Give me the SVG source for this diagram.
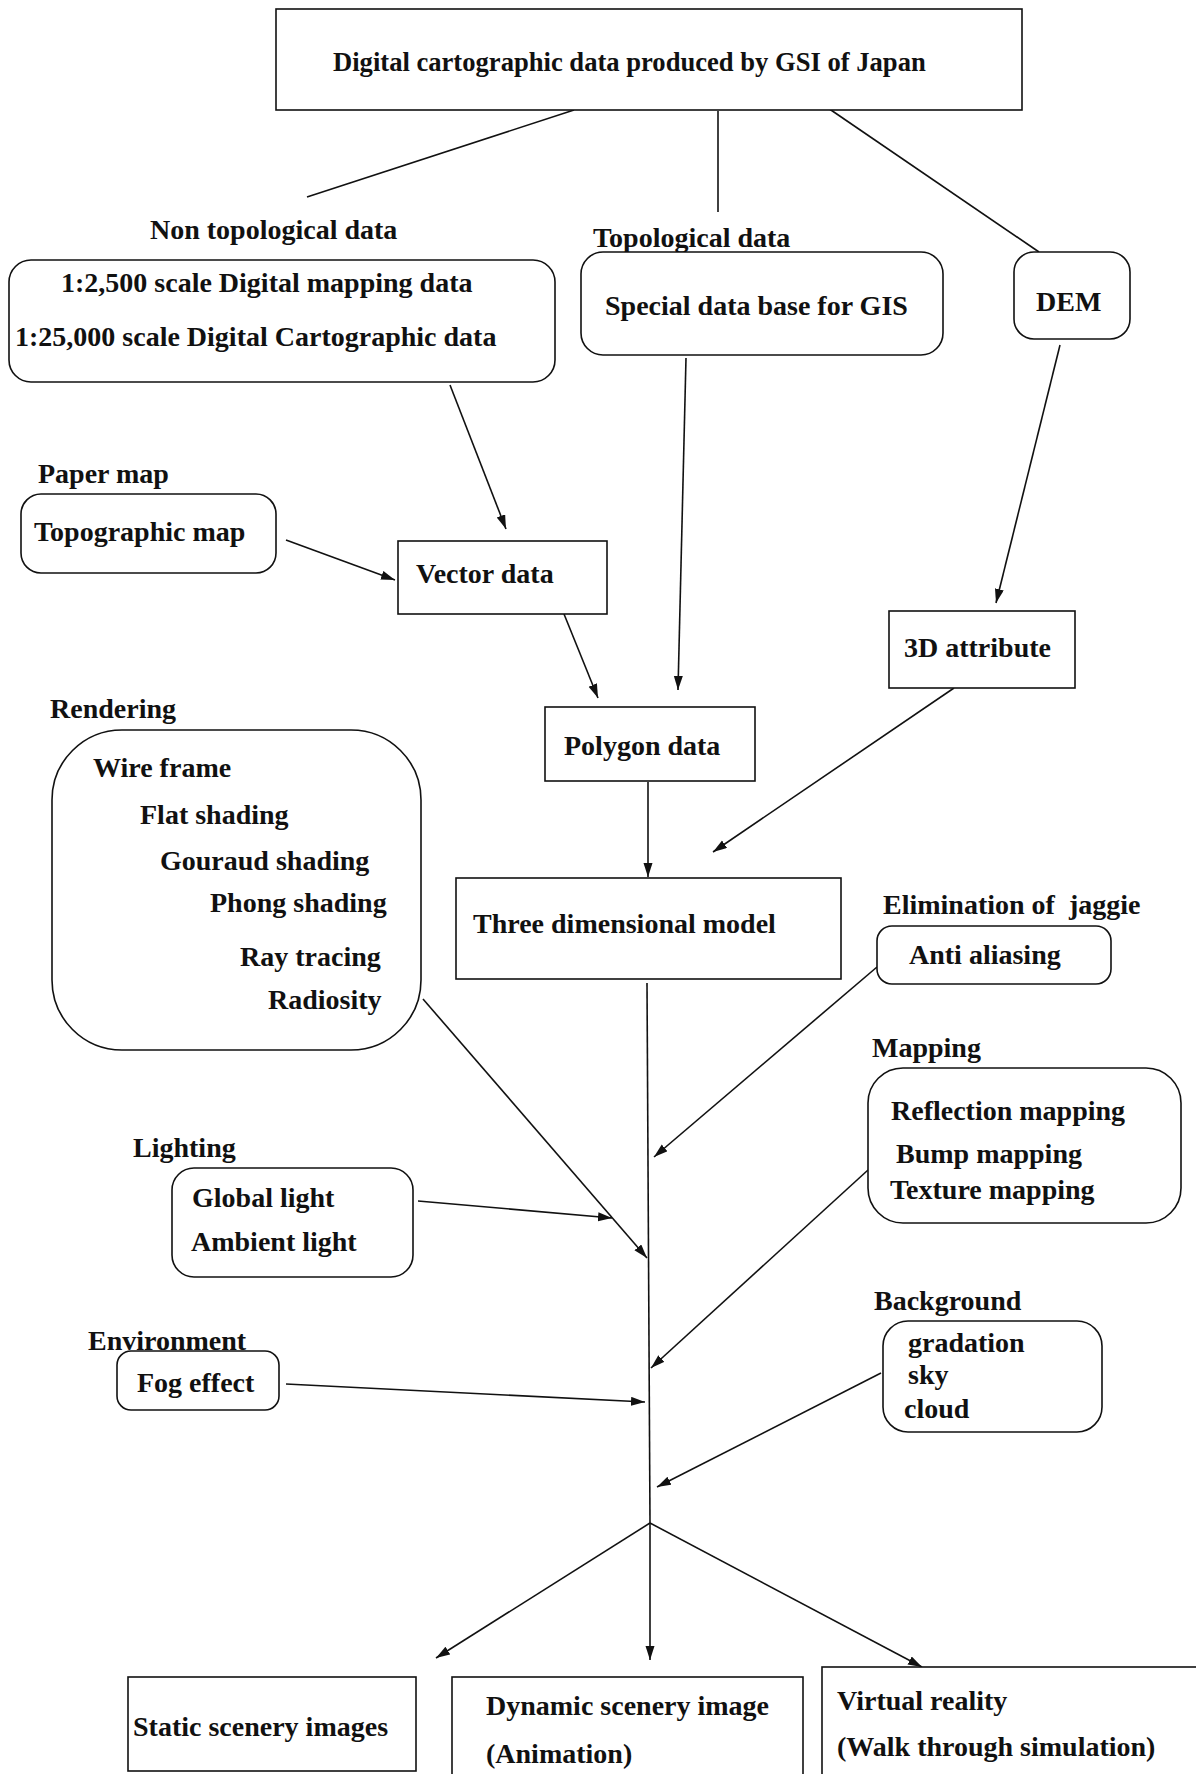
<svg xmlns="http://www.w3.org/2000/svg" width="1196" height="1774" viewBox="0 0 1196 1774">
<style>
  text { font-family: "Liberation Serif", "Times New Roman", serif; font-weight: bold; font-size: 28px; fill: #111; }
  .box { fill: #fff; stroke: #111; stroke-width: 1.6; }
  .ln { stroke: #111; stroke-width: 1.6; fill: none; }
  .arr { marker-end: url(#ah); }
</style>
<defs>
  <marker id="ah" markerUnits="userSpaceOnUse" markerWidth="16" markerHeight="10" refX="14" refY="4.5" orient="auto">
    <path d="M0,0 L14,4.5 L0,9 z" fill="#111"/>
  </marker>
</defs>
<rect width="1196" height="1774" fill="#fff"/>

<g id="connectors">
  <line class="ln" x1="574" y1="110" x2="307" y2="197"/>
  <line class="ln" x1="718" y1="111" x2="718" y2="212"/>
  <line class="ln" x1="828" y1="108" x2="1039" y2="252"/>
  <line class="ln arr" x1="450" y1="385" x2="506" y2="529"/>
  <line class="ln arr" x1="686" y1="358" x2="678" y2="690"/>
  <line class="ln arr" x1="1060" y1="345" x2="996" y2="603"/>
  <line class="ln arr" x1="286" y1="540" x2="395" y2="580"/>
  <line class="ln arr" x1="564" y1="614" x2="598" y2="698"/>
  <line class="ln arr" x1="648" y1="782" x2="648" y2="877"/>
  <line class="ln arr" x1="954" y1="688" x2="713" y2="852"/>
  <line class="ln" x1="647" y1="983" x2="650" y2="1523"/>
  <line class="ln arr" x1="877" y1="967" x2="654" y2="1157"/>
  <line class="ln arr" x1="423" y1="999" x2="647" y2="1258"/>
  <line class="ln arr" x1="418" y1="1201" x2="612" y2="1218"/>
  <line class="ln arr" x1="868" y1="1170" x2="651" y2="1368"/>
  <line class="ln arr" x1="286" y1="1384" x2="645" y2="1402"/>
  <line class="ln arr" x1="881" y1="1373" x2="657" y2="1487"/>
  <line class="ln arr" x1="650" y1="1523" x2="436" y2="1658"/>
  <line class="ln arr" x1="650" y1="1523" x2="650" y2="1660"/>
  <line class="ln arr" x1="650" y1="1523" x2="922" y2="1667"/>
</g>

<g id="gsi">
  <rect class="box" x="276" y="9" width="746" height="101"/>
  <text x="333" y="71" style="font-size:26.6px">Digital cartographic data produced by GSI of Japan</text>
</g>

<g id="nontopo">
  <text x="150" y="239">Non topological data</text>
  <rect class="box" x="9" y="260" width="546" height="122" rx="22"/>
  <text x="61" y="292">1:2,500 scale Digital mapping data</text>
  <text x="15" y="346">1:25,000 scale Digital Cartographic data</text>
</g>

<g id="topo">
  <text x="593" y="247">Topological data</text>
  <rect class="box" x="581" y="252" width="362" height="103" rx="22"/>
  <text x="605" y="315">Special data base for GIS</text>
</g>

<g id="dem">
  <rect class="box" x="1014" y="252" width="116" height="87" rx="20"/>
  <text x="1036" y="311">DEM</text>
</g>

<g id="papermap">
  <text x="38" y="483">Paper map</text>
  <rect class="box" x="21" y="494" width="255" height="79" rx="20"/>
  <text x="34" y="541">Topographic map</text>
</g>

<g id="vector">
  <rect class="box" x="398" y="541" width="209" height="73"/>
  <text x="416" y="583">Vector data</text>
</g>

<g id="attr3d">
  <rect class="box" x="889" y="611" width="186" height="77"/>
  <text x="904" y="657">3D attribute</text>
</g>

<g id="polygon">
  <rect class="box" x="545" y="707" width="210" height="74"/>
  <text x="564" y="755">Polygon data</text>
</g>

<g id="rendering">
  <text x="50" y="718">Rendering</text>
  <rect class="box" x="52" y="730" width="369" height="320" rx="70"/>
  <text x="93" y="777">Wire frame</text>
  <text x="140" y="824">Flat shading</text>
  <text x="160" y="870">Gouraud shading</text>
  <text x="210" y="912">Phong shading</text>
  <text x="240" y="966">Ray tracing</text>
  <text x="268" y="1009">Radiosity</text>
</g>

<g id="model">
  <rect class="box" x="456" y="878" width="385" height="101"/>
  <text x="473" y="933">Three dimensional model</text>
</g>

<g id="antialias">
  <text x="883" y="914" style="white-space:pre">Elimination of  jaggie</text>
  <rect class="box" x="877" y="926" width="234" height="58" rx="15"/>
  <text x="909" y="964">Anti aliasing</text>
</g>

<g id="mapping">
  <text x="872" y="1057">Mapping</text>
  <rect class="box" x="868" y="1068" width="313" height="155" rx="35"/>
  <text x="891" y="1120">Reflection mapping</text>
  <text x="896" y="1163">Bump mapping</text>
  <text x="890" y="1199">Texture mapping</text>
</g>

<g id="lighting">
  <text x="133" y="1157">Lighting</text>
  <rect class="box" x="172" y="1168" width="241" height="109" rx="22"/>
  <text x="192" y="1207">Global light</text>
  <text x="191" y="1251">Ambient light</text>
</g>

<g id="background">
  <text x="874" y="1310">Background</text>
  <rect class="box" x="883" y="1321" width="219" height="111" rx="25"/>
  <text x="908" y="1352">gradation</text>
  <text x="908" y="1384">sky</text>
  <text x="904" y="1418">cloud</text>
</g>

<g id="environment">
  <rect class="box" x="117" y="1351" width="162" height="59" rx="14"/>
  <text x="88" y="1350">Environment</text>
  <text x="137" y="1392">Fog effect</text>
</g>

<g id="static">
  <rect class="box" x="128" y="1677" width="288" height="94"/>
  <text x="133" y="1736">Static scenery images</text>
</g>

<g id="dynamic">
  <rect class="box" x="452" y="1677" width="351" height="110"/>
  <text x="486" y="1715">Dynamic scenery image</text>
  <text x="486" y="1763">(Animation)</text>
</g>

<g id="vr">
  <rect class="box" x="822" y="1667" width="390" height="120"/>
  <text x="837" y="1710">Virtual reality</text>
  <text x="837" y="1756">(Walk through simulation)</text>
</g>
</svg>
